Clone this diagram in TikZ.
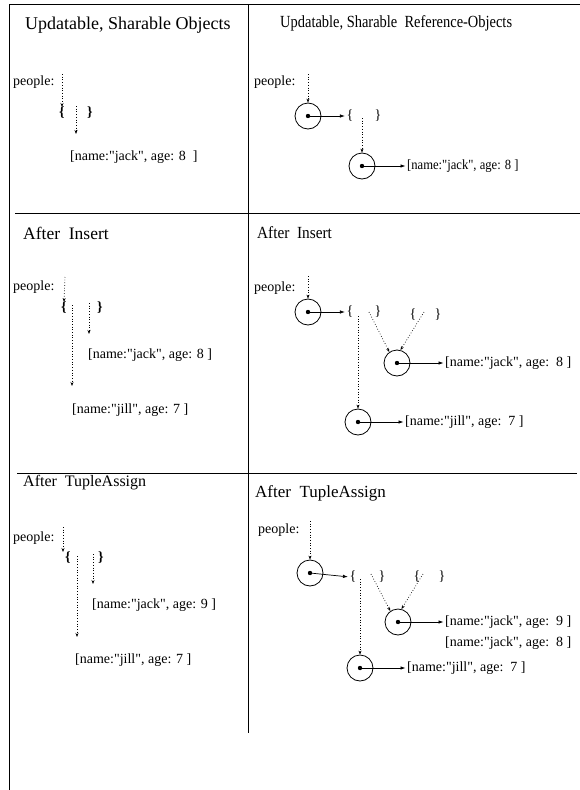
\documentclass[tikz,border=0pt]{standalone}
\usepackage{fontspec}
\setmainfont{Liberation Serif}[Ligatures=TeXOff]
\usetikzlibrary{arrows.meta}
\begin{document}
\begin{tikzpicture}[x=1pt,y=-1pt,
  frame/.style={line width=0.9pt},
  title/.style={anchor=west,inner sep=0,font=\fontsize{17}{17}\selectfont},
  txt/.style={anchor=west,inner sep=0,font=\fontsize{14}{14}\selectfont},
  brace/.style={anchor=center,inner sep=0,font=\fontsize{14}{14}\selectfont},
  boldbrace/.style={brace,font=\fontsize{14}{14}\selectfont\bfseries},
  ring/.style={circle,draw,line width=0.8pt,minimum size=26pt,inner sep=0,
    path picture={\fill (path picture bounding box.center) circle (2.2pt);}},
  dotarrow/.style={dotted,line width=0.7pt,-{Stealth[length=4pt,width=3pt]}},
  solidarrow/.style={line width=0.7pt,-{Latex[length=5pt,width=3.5pt]},shorten >=1.5pt},
]
\useasboundingbox (0,0) rectangle (580,790);

% frame
\coordinate (tl) at (9,4);
\coordinate (tr) at (580,4);
\coordinate (bl) at (9,790);
\coordinate (mt) at (248,4);
\coordinate (mb) at (248,733);
\coordinate (h1l) at (15,213);
\coordinate (h1r) at (580,213);
\coordinate (h2l) at (17,473);
\coordinate (h2r) at (577,473);
\draw[frame] (tr) -- (tl) -- (bl);
\draw[frame] (mt) -- (mb);
\draw[frame] (h1l) -- (h1r);
\draw[frame] (h2l) -- (h2r);

% ---------- panel 1: sharable objects ----------
\node[title,font=\fontsize{18}{18}\selectfont] (t1) at (25,25) {Updatable, Sharable Objects};
\node[txt] (p1) at (13,82) {people:};
\node[boldbrace] (o1) at (62,113) {\{};
\node[boldbrace] (c1) at (90,113) {\}};
\node[txt] (j1) at (70,157) {[name:"jack", age: 8\ \ ]};
\coordinate (p1s) at (62,74);
\coordinate (s1) at (76,106);
\coordinate (e1) at (76,134);
\draw[dotarrow] (p1s) -- (o1.north);
\draw[dotarrow] (s1) -- (e1);

% ---------- panel 2: reference objects ----------
\node[title] (t2) at (280,23) {\scalebox{0.85}[1]{Updatable,\ Sharable\ \ Reference-Objects}};
\node[txt] (p2) at (254,82) {people:};
\node[ring] (r2a) at (308,116) {};
\node[brace] (o2) at (350,116) {\{};
\node[brace] (c2) at (378,116) {\}};
\node[ring] (r2b) at (362,166) {};
\node[txt] (j2) at (407,166) {\scalebox{0.9}[1]{[name:"jack", age: 8 ]}};
\coordinate (p2s) at (308,74);
\coordinate (s2) at (362,118);
\draw[dotarrow] (p2s) -- (r2a.north);
\draw[solidarrow] (r2a.center) -- (o2.west);
\draw[dotarrow] (s2) -- (r2b.north);
\draw[solidarrow] (r2b.center) -- (j2.west);

% ---------- panel 3: after insert ----------
\node[title,font=\fontsize{17.5}{17.5}\selectfont] (t3) at (23,233) {After\ \ Insert};
\node[txt] (p3) at (13,287) {people:};
\node[boldbrace] (o3) at (64,308) {\{};
\node[boldbrace] (c3) at (100,308) {\}};
\node[txt] (j3) at (88,355) {[name:"jack", age: 8 ]};
\node[txt] (l3) at (72,410) {[name:"jill", age: 7 ]};
\coordinate (p3s) at (65,277);
\coordinate (s3a) at (72,305);
\coordinate (e3a) at (72,386);
\coordinate (s3b) at (89,303);
\coordinate (e3b) at (89,334);
\draw[dotarrow] (p3s) -- (o3.north);
\draw[dotarrow] (s3a) -- (e3a);
\draw[dotarrow] (s3b) -- (e3b);

% ---------- panel 4: after insert, references ----------
\node[title] (t4) at (257,233) {\scalebox{0.9}[1]{After\ \ Insert}};
\node[txt] (p4) at (254,288) {people:};
\node[ring] (r4a) at (308,312) {};
\node[brace] (o4) at (350,312) {\{};
\node[brace] (c4) at (378,312) {\}};
\node[brace] (o4b) at (413,315) {\{};
\node[brace] (c4b) at (438,315) {\}};
\node[ring] (r4b) at (397,363) {};
\node[ring] (r4c) at (358,422) {};
\node[txt] (j4) at (445,363) {[name:"jack", age:\ \ 8 ]};
\node[txt] (l4) at (405,422) {[name:"jill", age:\ \ 7 ]};
\coordinate (p4s) at (308,276);
\coordinate (s4a) at (358,316);
\coordinate (s4b) at (369,312);
\coordinate (s4c) at (424,312);
\draw[dotarrow] (p4s) -- (r4a.north);
\draw[solidarrow] (r4a.center) -- (o4.west);
\draw[dotarrow] (s4a) -- (r4c.north);
\draw[dotarrow] (s4b) -- (r4b.125);
\draw[dotarrow] (s4c) -- (r4b.75);
\draw[solidarrow] (r4b.center) -- (j4.west);
\draw[solidarrow] (r4c.center) -- (l4.west);

% ---------- panel 5: after tuple assign ----------
\node[title,font=\fontsize{16}{16}\selectfont] (t5) at (23,483) {After\ \ TupleAssign};
\node[txt] (p5) at (13,538) {people:};
\node[boldbrace] (o5) at (68,558) {\{};
\node[boldbrace] (c5) at (101,558) {\}};
\node[txt] (j5) at (92,605) {[name:"jack", age: 9 ]};
\node[txt] (l5) at (75,660) {[name:"jill", age: 7 ]};
\coordinate (p5s) at (63,527);
\coordinate (s5a) at (77,556);
\coordinate (e5a) at (77,637);
\coordinate (s5b) at (93,554);
\coordinate (e5b) at (93,584);
\draw[dotarrow] (p5s) -- (o5.north -| p5s);
\draw[dotarrow] (s5a) -- (e5a);
\draw[dotarrow] (s5b) -- (e5b);

% ---------- panel 6: after tuple assign, references ----------
\node[title] (t6) at (255,493) {After\ \ TupleAssign};
\node[txt] (p6) at (258,530) {people:};
\node[ring] (r6a) at (310,573) {};
\node[brace] (o6) at (353,577) {\{};
\node[brace] (c6) at (382,577) {\}};
\node[brace] (o6b) at (417,577) {\{};
\node[brace] (c6b) at (442,577) {\}};
\node[ring] (r6b) at (398,622) {};
\node[ring] (r6c) at (360,668) {};
\node[txt] (j6) at (445,622) {[name:"jack", age:\ \ 9 ]};
\node[txt] (k6) at (445,643) {[name:"jack", age:\ \ 8 ]};
\node[txt] (l6) at (407,668) {[name:"jill", age:\ \ 7 ]};
\coordinate (p6s) at (310,521);
\coordinate (s6a) at (360,579);
\coordinate (s6b) at (371,574);
\coordinate (s6c) at (423,574);
\draw[dotarrow] (p6s) -- (r6a.north);
\draw[solidarrow] (r6a.center) -- (o6.west);
\draw[dotarrow] (s6a) -- (r6c.north);
\draw[dotarrow] (s6b) -- (r6b.125);
\draw[dotarrow] (s6c) -- (r6b.75);
\draw[solidarrow] (r6b.center) -- (j6.west);
\draw[solidarrow] (r6c.center) -- (l6.west);
\end{tikzpicture}
\end{document}
